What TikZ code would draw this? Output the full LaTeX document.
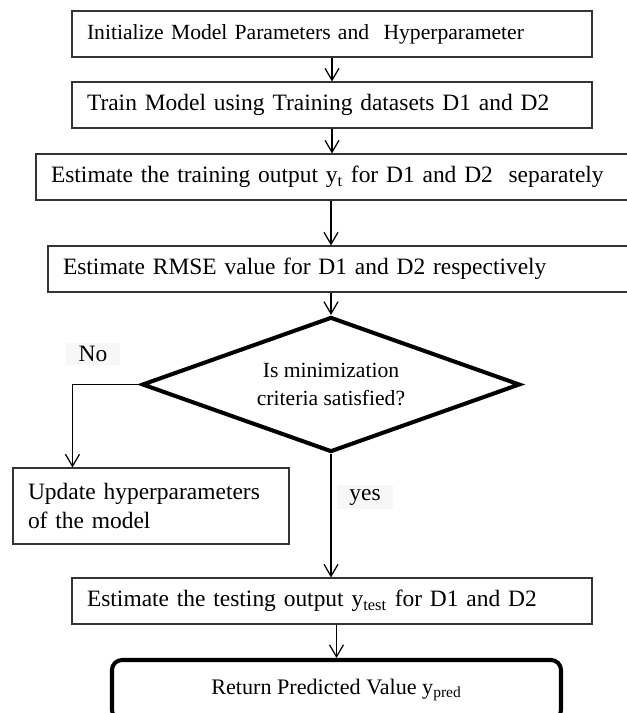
\documentclass[tikz,border=0pt]{standalone}
\usepackage{fontspec}
\setmainfont{Liberation Serif}
\usetikzlibrary{shapes.geometric,arrows.meta}

\begin{document}
\begin{tikzpicture}[font=\fontsize{13.35}{17}\selectfont,
            stepbox/.style={draw=black!80, line width=0.6pt, inner xsep=0.3cm,
              inner ysep=0pt, minimum height=0.92cm, align=left},
            smalltext/.style={font=\fontsize{12.3}{15}\selectfont},
            decision/.style={diamond, draw, line width=2.3pt, aspect=2.8,
              minimum width=7.56cm, minimum height=2.7cm, inner sep=0pt,
              align=center, font=\fontsize{12.3}{16}\selectfont},
            lastbox/.style={draw, line width=2.3pt, rounded corners=0.2cm,
              minimum width=8.98cm, minimum height=1.2cm,
              font=\fontsize{12.6}{15}\selectfont},
            answer/.style={fill=black!3, inner xsep=0.25cm, inner ysep=2pt},
            arr/.style={-{Straight Barb[length=0.24cm, width=0.28cm]}, line width=0.7pt}]
            \useasboundingbox (0,0) rectangle (12.54,-14.26);
            % main column
            \node[stepbox, smalltext, text width=9.8cm] (init) at (6.64,-0.68)
              {Initialize Model Parameters and\ \ Hyperparameter};
            \node[stepbox, text width=9.8cm] (train) at (6.64,-2.10)
              {Train Model using Training datasets D1 and D2};
            \node[stepbox, text width=11.28cm] (trainout) at (6.66,-3.54)
              {Estimate the training output y\textsubscript{t} for D1 and D2\ \ separately};
            \node[stepbox, text width=11.04cm] (rmse) at (6.78,-5.38)
              {Estimate RMSE value for D1 and D2 respectively};
            \node[decision] (crit) at (6.62,-7.69)
              {Is minimization\\criteria satisfied?};
            \node[stepbox, text width=4.92cm, minimum height=1.52cm] (update) at (3.02,-10.12)
              {Update hyperparameters\\of the model};
            \node[stepbox, text width=9.8cm] (testout) at (6.64,-12.02)
              {Estimate the testing output y\textsubscript{test} for D1 and D2};
            \node[lastbox] (ret) at (6.73,-13.8)
              {Return Predicted Value y\textsubscript{pred}};
            % branch labels
            \node[answer] (no) at (1.86,-7.08) {No};
            \node[answer] (yes) at (7.3,-9.94) {yes};
            \coordinate (upin) at ([xshift=1.2cm]update.north west);
            % connectors
            \draw[arr] (init) -- (train);
            \draw[arr] (train) -- (train |- trainout.north);
            \draw[arr] (trainout.south -| crit.north) -- (crit.north |- rmse.north);
            \draw[arr] (crit.north |- rmse.south) -- (crit.north);
            \draw[arr] (crit.west) -| (upin);
            \draw[arr] (crit.south) -- (crit.south |- testout.north);
            \draw[arr] (ret.north |- testout.south) -- (ret.north);
        \end{tikzpicture}
\end{document}
